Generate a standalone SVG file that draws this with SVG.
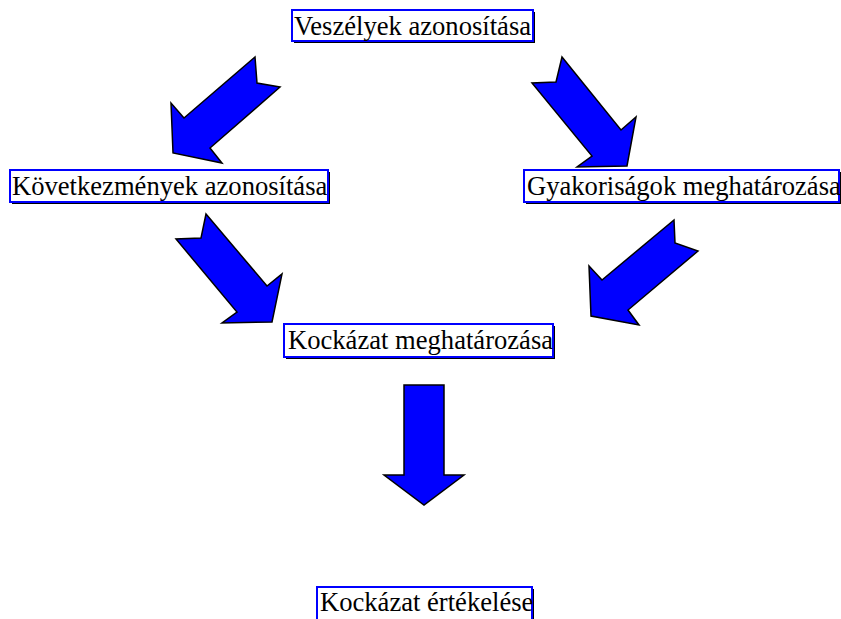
<svg xmlns="http://www.w3.org/2000/svg" width="841" height="619" viewBox="0 0 841 619">
<style>
.box{fill:#ffffff;stroke:#0000ff;stroke-width:2}
.sh{fill:#000000}
text{font-family:'Liberation Serif','Times New Roman','DejaVu Serif',serif;font-size:26.6px;fill:#000000}
.ar{fill:#0000ff;stroke:#000000;stroke-width:1.5;stroke-linejoin:miter}
</style>
<rect width="841" height="619" fill="#ffffff"/>
<g id="connectors">
<polygon class="ar" points="255,57 257,83 280,87 210,148 222,163 173,153 171,103 184,118"/>
<polygon class="ar" points="562,57 621,130 636,117 627,166 577,167 592,156 532,83 556,82"/>
<polygon class="ar" points="206,214 267,286 282,274 272,322 222,323 237,312 176,239 201,238"/>
<polygon class="ar" points="674,220 675,243 698,251 628,310 639,325 591,316 589,266 602,280"/>
<polygon class="ar" points="404,385 444,385 444,475 464,475 424,505 384,475 404,475"/>
</g>
<g id="n1">
<rect class="sh" x="294" y="12" width="241" height="31"/>
<rect class="box" x="292" y="10" width="241" height="31"/>
<text x="294" y="35">Veszélyek azonosítása</text>
</g>
<g id="n2">
<rect class="sh" x="12" y="172" width="318" height="32"/>
<rect class="box" x="10" y="170" width="318" height="32"/>
<text x="12" y="195">Következmények azonosítása</text>
</g>
<g id="n3">
<rect class="sh" x="526" y="172" width="316" height="32"/>
<rect class="box" x="524" y="170" width="315" height="32"/>
<text x="527" y="195">Gyakoriságok meghatározása</text>
</g>
<g id="n4">
<rect class="sh" x="286" y="326" width="269" height="33"/>
<rect class="box" x="284" y="324" width="269" height="33"/>
<text x="288" y="349">Kockázat meghatározása</text>
</g>
<g id="n5">
<rect class="sh" x="319" y="589" width="215" height="40"/>
<rect class="box" x="317" y="587" width="215" height="40"/>
<text x="320" y="611">Kockázat értékelése</text>
</g>
</svg>
